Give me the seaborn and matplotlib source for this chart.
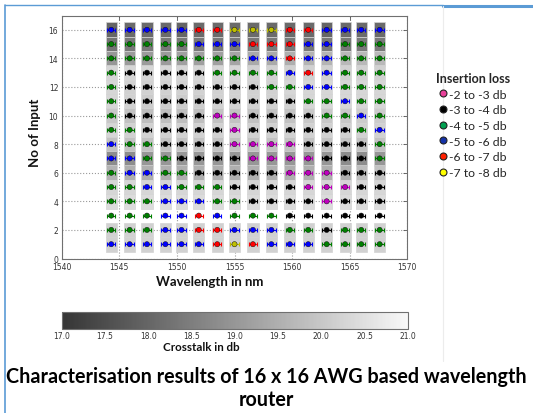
import numpy as np
import pandas as pd
import matplotlib
matplotlib.use("Agg")
import matplotlib.pyplot as plt
import seaborn as sns
from matplotlib.lines import Line2D
from matplotlib.markers import MarkerStyle
from matplotlib.colors import LinearSegmentedColormap

# output channel wavelengths (nm)
wavelengths = [1544.3, 1545.9, 1547.4, 1549.0, 1550.4, 1551.9, 1553.5, 1555.0,
               1556.6, 1558.2, 1559.8, 1561.4, 1563.0, 1564.6, 1566.0, 1567.6]
# input ports, top row first
inputs = [16, 15, 14, 13, 12, 11, 10, 9, 8, 7, 6, 5, 4, 3, 2, 1]

# insertion loss class of every cell, one string per input (left -> right)
# M=-2..-3  K=-3..-4  G=-4..-5  B=-5..-6  R=-6..-7  Y=-7..-8 db
loss_rows = [
    "BBBBBRRYYYRRBBBB",  # 16
    "GGGGGBBBRRRBBGGG",  # 15
    "GGGGGGGGBBRBBGGG",  # 14
    "GKKKKKGGGGBRBGGG",  # 13
    "GKKKKKKKKGGBBGGG",  # 12
    "GKKKKKKKKKKGGBGG",  # 11
    "GKKKKKMMKKKKGGBG",  # 10
    "GGKKKKKMKKKKKKGB",  # 9
    "BGGKKKKMMMMKKKKG",  # 8
    "BBGGKKKKMMMMKKKG",  # 7
    "GBBGGKKKKKMMMKKK",  # 6
    "GGBBGGGKKKKMMMKK",  # 5
    "GGGBBBGGKKKKMKKK",  # 4
    "GGGBBRBGGGKKKKKK",  # 3
    "GGGBBRRBBBGGKGGG",  # 2
    "BBBBBBRYRBBBGGGG",  # 1
]

# crosstalk (db) behind every cell, nan = not drawn
nan = np.nan
crosstalk_rows = [
    [18.0, 18.1, 18.1, 18.1, 18.0, 18.1, 18.1, 18.1, 18.1, 18.1, 18.1, 18.1, 18.0, 18.1, 18.1, 18.1],
    [18.3, 18.4, 18.4, 18.4, 18.4, 18.4, 18.4, 18.4, 18.4, 18.4, 18.4, 18.4, 18.4, 18.4, 18.4, 18.4],
    [19.0, 19.1, 19.1, 19.1, 19.2, 19.2, 19.2, 19.3, 19.4, 19.4, 19.5, 19.6, 19.6, 19.7, 19.7, 19.7],
    [20.3, 20.3, 20.3, 20.3, 20.3, 20.3, 20.3, 20.3, 20.2, 20.2, 20.2, 20.2, 20.2, 20.2, 20.2, 20.2],
    [20.3, 20.2, 20.2, 20.2, 20.2, 20.2, 20.2, 20.2, 20.2, 20.2, 20.3, 20.3, 20.3, 20.3, 20.3, 20.3],
    [20.3, 20.2, 20.1, 20.1, 20.1, 20.1, 20.2, 20.2, 20.2, 20.2, 20.2, 20.3, 20.3, 20.3, 20.3, 20.3],
    [20.0, 19.9, 19.8, 19.8, 19.8, 19.8, 19.9, 19.9, 19.9, 19.9, 19.9, 20.0, 20.0, 20.0, 20.1, 20.1],
    [20.3, 20.2, 20.2, 20.2, 20.2, 20.2, 20.2, 20.2, 20.2, 20.2, 20.2, 20.2, 20.2, 20.2, 20.2, 20.2],
    [19.9, 19.9, 19.9, 19.9, 19.9, 19.9, 19.9, 19.9, 19.9, 19.9, 19.9, 19.9, 19.9, 19.9, 19.9, 19.9],
    [18.8, 18.8, 19.0, 19.0, 19.0, 19.0, 19.0, 19.0, 19.0, 19.0, 19.0, 19.0, 19.0, 18.8, 18.8, 19.0],
    [19.6, 19.5, 19.5, 19.5, 19.5, 19.5, 19.5, 19.5, 19.5, 19.5, 19.5, 19.5, 19.5, 19.5, 19.8, 19.9],
    [20.3, 20.3, 20.3, 20.3, 20.3, 20.3, 20.3, 20.3, 20.3, 20.3, 20.3, 20.3, 20.3, 20.3, 20.3, 20.3],
    [20.4, 20.4, 20.4, 20.4, 20.4, 20.4, 20.4, 20.4, 20.4, 20.4, 20.4, 20.4, 20.4, 20.4, 20.4, 20.4],
    [nan] * 16,
    [20.2, 20.2, 20.2, 20.2, 20.2, 20.2, 20.2, 20.2, 20.2, 20.2, 20.2, 20.2, 20.2, 20.2, 20.2, 20.2],
    [20.2, 20.2, 20.2, 20.2, 20.2, 20.2, 20.2, 20.2, 20.2, 20.2, 20.2, 20.2, 20.2, 20.2, 20.2, 20.2],
]

loss_codes = ["M", "K", "G", "B", "R", "Y"]
loss_labels = ["-2 to -3 db", "-3 to -4 db", "-4 to -5 db",
               "-5 to -6 db", "-6 to -7 db", "-7 to -8 db"]
# dot colours in the plot and the (slightly different) legend colours
dot_colors = {"M": "#bf00bf", "K": "#000000", "G": "#008000",
              "B": "#0000ff", "R": "#ff0000", "Y": "#bfbf00"}
legend_colors = ["#e8409a", "#000000", "#00a050", "#1432a8", "#ff2000", "#ffff00"]

rows = []
for inp, codes, xt in zip(inputs, loss_rows, crosstalk_rows):
    for wl, c, v in zip(wavelengths, codes, xt):
        rows.append({"wavelength": wl, "input": inp, "loss": c, "crosstalk": v})
df = pd.DataFrame(rows)

sns.set_style("white")
plt.rcParams["font.family"] = ["DejaVu Sans"]

# washed out grey scale, as in the colour bar of the picture
greys = LinearSegmentedColormap.from_list("greys_soft", ["#353535", "#f8f8f8"])

fig = plt.figure(figsize=(5.33, 4.14), dpi=100)
W, H = 533.0, 414.0
ax = fig.add_axes([61.7 / W, 1 - 259.5 / H, 345.6 / W, 243 / H])

# grey crosstalk boxes
box = MarkerStyle([(-0.38, -0.5), (0.38, -0.5), (0.38, 0.5), (-0.38, 0.5), (-0.38, -0.5)])
sns.scatterplot(data=df.dropna(subset=["crosstalk"]), x="wavelength", y="input",
                hue="crosstalk", palette=greys, hue_norm=(17, 21),
                marker=box, s=112, edgecolor="#d4d4d4", linewidth=0.5,
                legend=False, ax=ax, zorder=2)

# insertion loss dots with small horizontal bars
for c in loss_codes:
    sub = df[df["loss"] == c]
    ax.errorbar(sub["wavelength"], sub["input"], xerr=0.37, fmt="none",
                ecolor=dot_colors[c], elinewidth=0.8, capsize=1.3, capthick=0.8,
                zorder=3)
sns.scatterplot(data=df, x="wavelength", y="input", hue="loss", palette=dot_colors,
                s=14, edgecolor="#111111", linewidth=0.35, legend=False, ax=ax,
                zorder=4)

ax.set_xlim(1540, 1570)
ax.set_ylim(0, 17)
ax.set_xticks([1540, 1545, 1550, 1555, 1560, 1565, 1570])
ax.set_yticks([0, 2, 4, 6, 8, 10, 12, 14, 16])
ax.grid(True, ls=":", color="#9a9a9a", lw=0.8)
ax.set_axisbelow(True)
ax.tick_params(direction="in", length=3, width=0.6, top=True, right=True,
               labelsize=5.5, labelcolor="#333333", colors="#555555", pad=2.5)
for sp in ax.spines.values():
    sp.set_color("#707070")
    sp.set_linewidth(0.8)
ax.set_xlabel("")
ax.set_ylabel("")

fig.text(210 / W, 1 - 282 / H, "Wavelength in nm", family="Lato", weight="bold",
         size=9.5, ha="center", va="center", color="#111111")
fig.text(35 / W, 1 - 133 / H, "No of Input", family="Lato", weight="bold",
         size=9.5, ha="center", va="center", rotation=90, color="#111111")

# crosstalk colour bar
cax = fig.add_axes([61.7 / W, 1 - 330 / H, 346 / W, 17.3 / H])
sm = plt.cm.ScalarMappable(norm=plt.Normalize(17, 21), cmap=greys)
cb = fig.colorbar(sm, cax=cax, orientation="horizontal")
cb.set_ticks([17.0, 17.5, 18.0, 18.5, 19.0, 19.5, 20.0, 20.5, 21.0])
cb.ax.xaxis.set_major_formatter(matplotlib.ticker.FormatStrFormatter("%.1f"))
cb.ax.tick_params(direction="in", length=2.5, width=0.5, labelsize=5.5,
                  labelcolor="#333333", colors="#555555", pad=1.5)
cb.outline.set_edgecolor("#707070")
cb.outline.set_linewidth(0.8)
fig.text(201 / W, 1 - 348 / H, "Crosstalk in db", family="Lato", weight="bold",
         size=8.3, ha="center", va="center", color="#111111")

# legend for insertion loss
handles = [Line2D([], [], ls="", marker="o", ms=5, mfc=col, mec="#222222", mew=0.8)
           for col in legend_colors]
fig.legend(handles, loss_labels, title="Insertion loss", loc="upper left",
           bbox_to_anchor=(430 / W, 1 - 67 / H), frameon=False,
           prop={"family": "Lato", "size": 8.8},
           title_fontproperties={"family": "Lato", "weight": "bold", "size": 9},
           handlelength=0.6, handletextpad=0.2, labelspacing=0.38, borderpad=0)

# caption
fig.text(266 / W, 1 - 377 / H, "Characterisation results of 16 x 16 AWG based wavelength",
         family="Lato", weight="bold", size=14.2, ha="center", va="center", color="#000000")
fig.text(266 / W, 1 - 400 / H, "router", family="Lato", weight="bold", size=14.2,
         ha="center", va="center", color="#000000")

# slide frame around the picture
blue = "#5b9bd5"
fig.add_artist(Line2D([5 / W, 5 / W], [0, 1 - 6 / H], color=blue, lw=1.2))
fig.add_artist(Line2D([5 / W, 443 / W], [1 - 6 / H, 1 - 6 / H], color=blue, lw=1.0))
fig.add_artist(Line2D([443 / W, 1], [1 - 6.5 / H, 1 - 6.5 / H], color=blue, lw=2.2))
fig.add_artist(Line2D([443 / W, 443 / W], [1 - 362 / H, 1 - 7 / H], color="#ececec", lw=0.8))

fig.savefig("out.png", dpi=100)
